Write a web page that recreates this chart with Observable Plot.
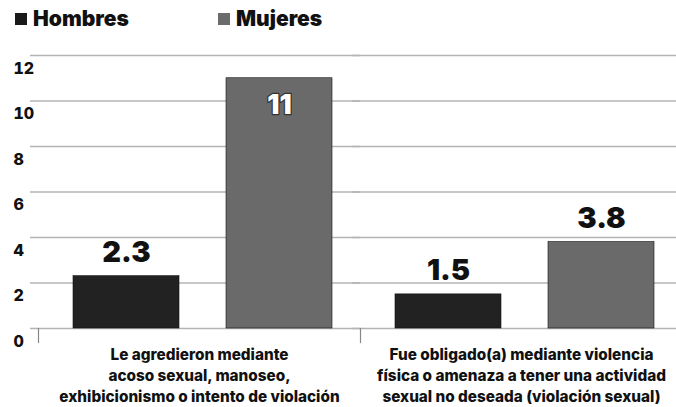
<!DOCTYPE html>
<html>
<head>
<meta charset="utf-8">
<script src="https://cdn.jsdelivr.net/npm/d3@7"></script>
<script src="https://cdn.jsdelivr.net/npm/@observablehq/plot@0.6"></script>
<style>
  html, body { margin: 0; padding: 0; background: #fff; overflow: hidden; }
  body { width: 676px; height: 407px; font-family: Inter, "DejaVu Sans", sans-serif; }
  .legend { position: relative; height: 42px; font-weight: 900; font-size: 21px; color: #111; }
  .legend .item { position: absolute; top: 6px; display: flex; align-items: center; }
  .legend .sw { width: 12px; height: 12px; margin-right: 6px; }
</style>
</head>
<body>
<div class="legend" id="legend"></div>
<div id="chart"></div>
<script>
const categories = [
  "Le agredieron mediante\nacoso sexual, manoseo,\nexhibicionismo o intento de violación",
  "Fue obligado(a) mediante violencia\nfísica o amenaza a tener una actividad\nsexual no deseada (violación sexual)"
];
const sexes = ["Hombres", "Mujeres"];
const hombres = [2.3, 1.5];
const mujeres = [11, 3.8];
const yTicks = [0, 2, 4, 6, 8, 10, 12];
const colors = ["#222222", "#6a6a6a"];
const legendColors = ["#1a1a1a", "#6b6b6b"];

const data = categories.flatMap((c, i) => [
  {category: c, sex: sexes[0], value: hombres[i]},
  {category: c, sex: sexes[1], value: mujeres[i]}
]);

// legend
const legend = document.getElementById("legend");
const legendX = [15, 218];
sexes.forEach((s, i) => {
  const it = document.createElement("div");
  it.className = "item";
  it.style.left = legendX[i] + "px";
  it.innerHTML = `<span class="sw" style="background:${legendColors[i]}"></span><span>${s}</span>`;
  legend.appendChild(it);
});

const inside = d => d.value > 8;
const font = "Inter, 'DejaVu Sans', sans-serif";

const chart = Plot.plot({
  width: 676,
  height: 365,
  marginLeft: 38,
  marginRight: -6,
  marginTop: 13,
  marginBottom: 79,
  style: {fontFamily: font, background: "#fff"},
  fx: {domain: categories, padding: 0, label: null},
  x: {domain: sexes, paddingInner: 0.305, paddingOuter: 0.2, align: 0.56, axis: null},
  y: {domain: [0, 12], axis: null},
  color: {domain: sexes, range: colors},
  marks: [
    Plot.ruleY(yTicks, {stroke: "#b4b4b4", strokeWidth: 1.5, insetLeft: -8}),
    Plot.frame({anchor: "left", stroke: "#888", strokeWidth: 1.2, insetTop: 273, insetBottom: -14}),
    Plot.axisY({
      ticks: yTicks, tickSize: 0, tickPadding: 0, textAnchor: "start", dx: -25, dy: 13,
      fontSize: 16, fontWeight: 800, fill: "#111", label: null
    }),
    Plot.axisFx({
      anchor: "bottom", tickSize: 0, tickPadding: 17, lineHeight: 1.36,
      fontSize: 15.3, fontWeight: 800, fill: "#111", label: null
    }),
    Plot.barY(data, {fx: "category", x: "sex", y: "value", fill: "sex", stroke: "#111", strokeWidth: 0.6}),
    Plot.text(data.filter(d => !inside(d)), {
      fx: "category", x: "sex", y: "value", text: d => String(d.value),
      lineAnchor: "bottom", dy: -14, fontSize: 29, fontWeight: 900, fill: "#111"
    }),
    Plot.text(data.filter(inside), {
      fx: "category", x: "sex", y: "value", text: d => String(d.value),
      lineAnchor: "top", dy: 17, fontSize: 27, fontWeight: 900, fill: "#fff",
      stroke: "#333", strokeWidth: 2.5, paintOrder: "stroke"
    })
  ]
});
document.getElementById("chart").appendChild(chart);
</script>
</body>
</html>
